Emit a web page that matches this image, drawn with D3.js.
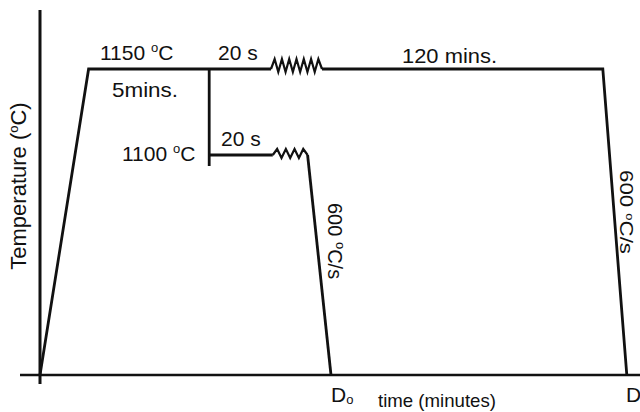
<!DOCTYPE html>
<html>
<head>
<meta charset="utf-8">
<script src="https://cdn.jsdelivr.net/npm/d3@7"></script>
<style>
  html, body { margin: 0; padding: 0; background: #fff; }
  svg { display: block; font-family: "Liberation Sans", Arial, sans-serif; }
</style>
</head>
<body>
<svg id="chart" width="640" height="412"></svg>
<script>
// Heat-treatment schedule (schematic time units, temperature in °C)
const mainTimes = [0, 8.1, 28.2, 38.5, 47.0, 93.8, 97.8];
const mainTemps = [25, 1150, 1150, 1150, 1150, 1150, 25];
const branchTimes = [28.2, 38.8, 44.6, 48.5];
const branchTemps = [1100, 1100, 1100, 25];
// Break symbols (time-scale interruptions) on each hold
const breakStarts = [38.5, 38.8];
const breakEnds = [47.0, 44.6];
const breakTemps = [1150, 1100];
const breakTeeth = [7, 4];

const width = 640, height = 412;
const svg = d3.select("#chart");

const x = d3.scaleLinear().domain([0, 100]).range([40, 640]);
// Schematic (piecewise) temperature axis
const y = d3.scaleLinear().domain([25, 1100, 1150]).range([375, 155, 69]);

const ink = "#111";
const lw = 2.8;

// Axes
svg.append("line").attr("x1", 40).attr("x2", 40).attr("y1", 10).attr("y2", 384)
  .attr("stroke", ink).attr("stroke-width", 3);
svg.append("line").attr("x1", 20).attr("x2", 640).attr("y1", y(25)).attr("y2", y(25))
  .attr("stroke", ink).attr("stroke-width", 2.6);

const line = d3.line().x(d => x(d[0])).y(d => y(d[1]));

// Split a profile into the parts before and after its break symbol
function segs(times, temps, bStart, bEnd) {
  const pts = times.map((t, i) => [t, temps[i]]);
  const a = [], b = [];
  let after = false;
  pts.forEach(p => {
    if (!after && p[0] <= bStart) a.push(p);
    if (p[0] >= bEnd) { after = true; b.push(p); }
  });
  return [a, b];
}

const [m1, m2] = segs(mainTimes, mainTemps, breakStarts[0], breakEnds[0]);
const [b1, b2] = segs(branchTimes, branchTemps, breakStarts[1], breakEnds[1]);

[m1, m2, b1, b2].forEach(s => {
  svg.append("path").attr("d", line(s)).attr("fill", "none")
    .attr("stroke", ink).attr("stroke-width", lw).attr("stroke-linejoin", "miter");
});

// Vertical step from the 1150 °C hold down to the 1100 °C hold
svg.append("line")
  .attr("x1", x(branchTimes[0])).attr("x2", x(branchTimes[0]))
  .attr("y1", y(1150)).attr("y2", y(1100) + 11)
  .attr("stroke", ink).attr("stroke-width", lw);

// Zigzag break symbols
breakStarts.forEach((t0, i) => {
  const x0 = x(t0), x1 = x(breakEnds[i]), yy = y(breakTemps[i]);
  const n = breakTeeth[i];
  const step = (x1 - x0) / (2 * n);
  const up = i === 0 ? -10 : -6, dn = 3;
  const pts = [[x0, yy]];
  for (let k = 1; k < 2 * n; k++) {
    pts.push([x0 + k * step, yy + (k % 2 ? up : dn)]);
  }
  pts.push([x1, yy]);
  svg.append("path").attr("d", d3.line()(pts)).attr("fill", "none")
    .attr("stroke", ink).attr("stroke-width", 2.2).attr("stroke-linejoin", "miter");
});

// Labels
const fs = 21;
function label(xp, yp, parts, opts = {}) {
  const size = opts.size || fs;
  const t = svg.append("text").attr("x", xp).attr("y", yp)
    .attr("font-size", size).attr("fill", ink)
    .attr("text-anchor", opts.anchor || "start");
  if (opts.rotate) t.attr("transform", `rotate(${opts.rotate},${xp},${yp})`);
  if (opts.len) t.attr("textLength", opts.len).attr("lengthAdjust", "spacingAndGlyphs");
  parts.forEach(p => {
    if (typeof p === "string") t.append("tspan").text(p);
    else {
      const s = t.append("tspan").text(p.text).attr("font-size", p.size || size);
      if (p.dy) s.attr("dy", p.dy);
    }
  });
  return t;
}
const sup = (txt, s = 13, d = 8) => ({ text: txt, size: s, dy: -d });
const back = (txt, d = 8) => ({ text: txt, dy: d });

label(100, 60, ["1150 ", sup("o"), back("C")]);
label(218, 60, ["20 s"]);
label(112, 97, ["5mins."], { len: 66 });
label(402, 63, ["120 mins."], { len: 95 });
label(122, 161, ["1100 ", sup("o"), back("C")]);
label(221, 146, ["20 s"]);
label(328, 203, ["600 ", sup("o"), back("C/s")], { rotate: 90, size: 20 });
label(620, 170, ["600 ", sup("o", 11, 6), back("C/s", 6)], { rotate: 90, size: 19, len: 84 });
label(331, 402, ["D", { text: "o", size: 13, dy: 2 }], { size: 21 });
label(626, 402, ["D"], { size: 21 });
label(378, 407, ["time (minutes)"], { size: 19, len: 118 });
label(26, 186, ["Temperature (", sup("o"), back("C)")],
  { rotate: -90, anchor: "middle", size: 22 });
</script>
</body>
</html>
